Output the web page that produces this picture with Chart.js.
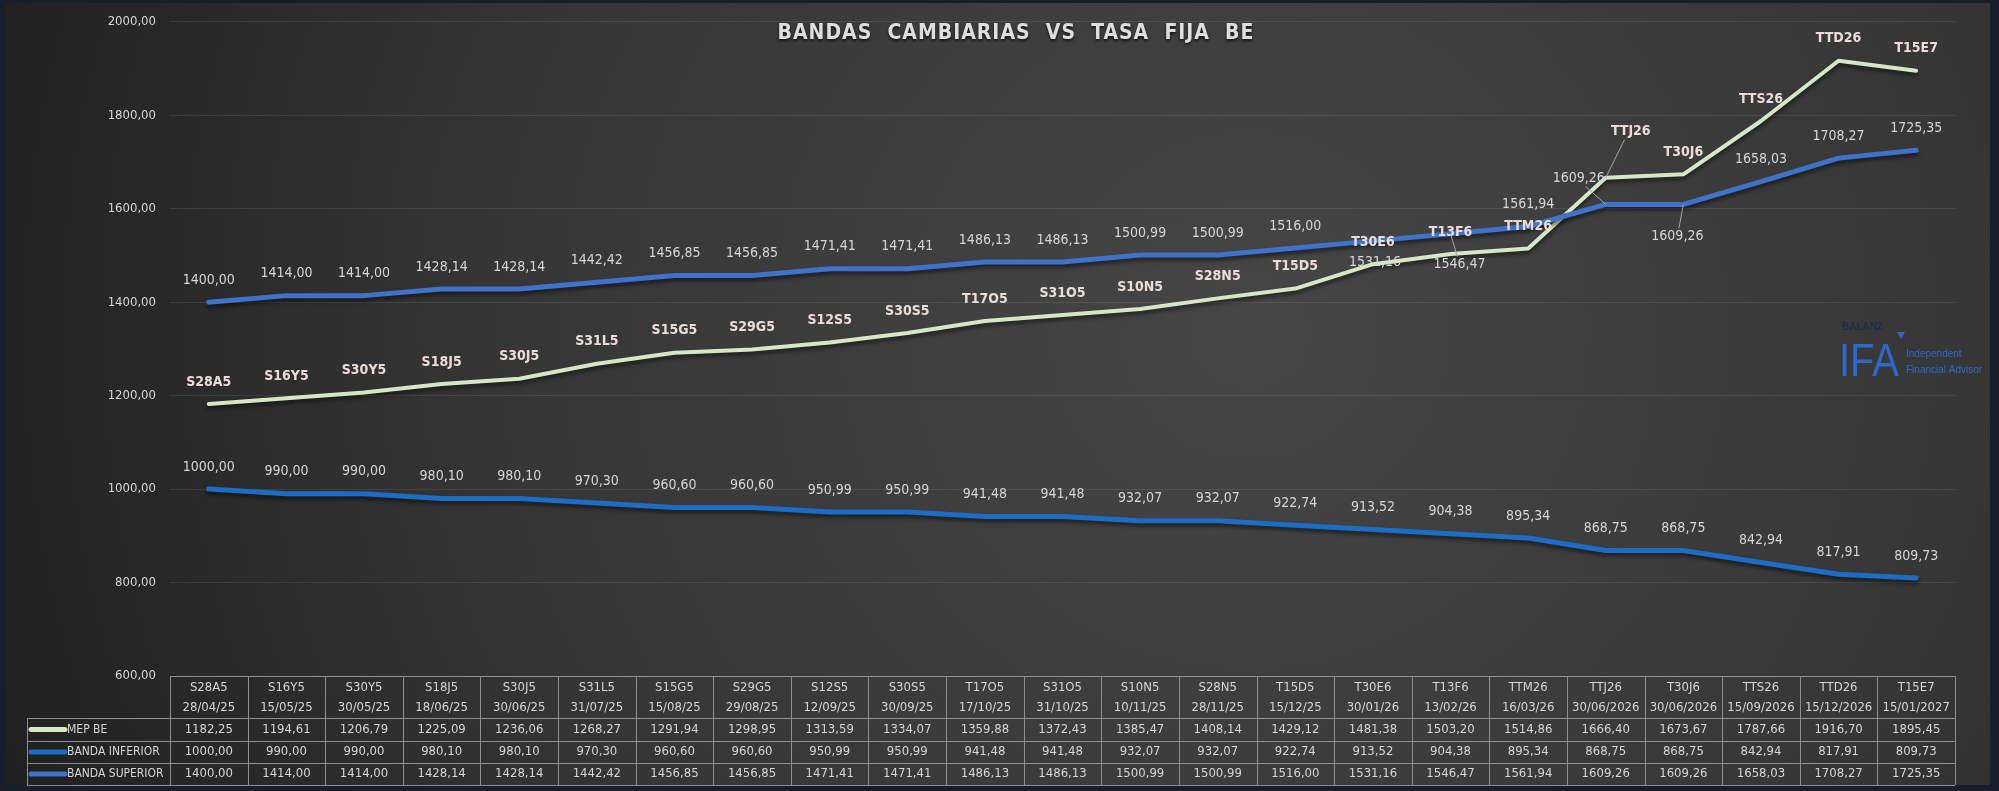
<!DOCTYPE html>
<html>
<head>
<meta charset="utf-8">
<title>Bandas cambiarias vs tasa fija BE</title>
<script src="https://cdn.jsdelivr.net/npm/chart.js@4.4.1/dist/chart.umd.min.js"></script>
<style>
  html, body { margin: 0; padding: 0; background: #17202a; overflow: hidden; }
  canvas { display: block; }
</style>
</head>
<body>
<canvas id="grafico" width="1999" height="791"></canvas>
<script>
// datos
const codigos = ["S28A5", "S16Y5", "S30Y5", "S18J5", "S30J5", "S31L5", "S15G5", "S29G5", "S12S5", "S30S5", "T17O5", "S31O5",
  "S10N5", "S28N5", "T15D5", "T30E6", "T13F6", "TTM26", "TTJ26", "T30J6", "TTS26", "TTD26", "T15E7"];
const fechas = ["28/04/25", "15/05/25", "30/05/25", "18/06/25", "30/06/25", "31/07/25", "15/08/25", "29/08/25", "12/09/25",
  "30/09/25", "17/10/25", "31/10/25", "10/11/25", "28/11/25", "15/12/25", "30/01/26", "13/02/26", "16/03/26",
  "30/06/2026", "30/06/2026", "15/09/2026", "15/12/2026", "15/01/2027"];
const mepBE = [1182.25, 1194.61, 1206.79, 1225.09, 1236.06, 1268.27, 1291.94, 1298.95, 1313.59, 1334.07, 1359.88, 1372.43,
  1385.47, 1408.14, 1429.12, 1481.38, 1503.20, 1514.86, 1666.40, 1673.67, 1787.66, 1916.70, 1895.45];
const bandaInferior = [1000.00, 990.00, 990.00, 980.10, 980.10, 970.30, 960.60, 960.60, 950.99, 950.99, 941.48, 941.48,
  932.07, 932.07, 922.74, 913.52, 904.38, 895.34, 868.75, 868.75, 842.94, 817.91, 809.73];
const bandaSuperior = [1400.00, 1414.00, 1414.00, 1428.14, 1428.14, 1442.42, 1456.85, 1456.85, 1471.41, 1471.41, 1486.13,
  1486.13, 1500.99, 1500.99, 1516.00, 1531.16, 1546.47, 1561.94, 1609.26, 1609.26, 1658.03, 1708.27, 1725.35];
const ejeY = { min: 600, max: 2000, paso: 200 };

const VERDE = "#d5e8c6";
const AZUL_INF = "#1c6dc6";
const AZUL_SUP = "#3f72c8";
const TEXTO = "#d6d6d6";
const FUENTE = "'Liberation Sans Narrow', 'DejaVu Sans Condensed', 'Liberation Sans', sans-serif";

const fmt = (v) => v.toFixed(2).replace(".", ",");

// etiquetas que no van arriba del punto (dataset, indice)
const ajustes = {
  "0-18": { dx: 25, dy: -46, guia: true },
  "2-15": { dx: 2, dy: 21 },
  "2-16": { dx: 9, dy: 31, guia: true },
  "2-18": { dx: -27, dy: -26, guia: true },
  "2-19": { dx: -6, dy: 32, guia: true }
};

const fondo = {
  id: "fondo",
  beforeDraw(chart) {
    const ctx = chart.ctx;
    ctx.save();
    ctx.fillStyle = "#17202a";
    ctx.fillRect(0, 0, chart.width, chart.height);
    const g = ctx.createRadialGradient(1250, 330, 0, 1250, 330, 1350);
    g.addColorStop(0, "#464646");
    g.addColorStop(0.55, "#363636");
    g.addColorStop(1, "#1f1f1f");
    ctx.fillStyle = g;
    ctx.fillRect(5, 3, 1985, 782);
    ctx.restore();
  },
  beforeDatasetDraw(chart) {
    const ctx = chart.ctx;
    ctx.save();
    ctx.shadowColor = "rgba(0,0,0,0.55)";
    ctx.shadowBlur = 4;
    ctx.shadowOffsetY = 3;
  },
  afterDatasetDraw(chart) {
    chart.ctx.restore();
  }
};

const etiquetas = {
  id: "etiquetas",
  afterDatasetsDraw(chart) {
    const ctx = chart.ctx;
    ctx.save();
    ctx.textAlign = "center";
    ctx.textBaseline = "middle";
    chart.data.datasets.forEach((ds, d) => {
      const meta = chart.getDatasetMeta(d);
      meta.data.forEach((p, i) => {
        const a = ajustes[d + "-" + i] || { dx: 0, dy: -22 };
        const tx = p.x + a.dx;
        const ty = p.y + a.dy;
        if (a.guia) {
          ctx.strokeStyle = "#a8a8a8";
          ctx.lineWidth = 1;
          ctx.beginPath();
          ctx.moveTo(p.x, p.y);
          const hacia = a.dy < 0 ? ty + 8 : ty - 8;
          ctx.lineTo(tx - a.dx * 0.25, hacia);
          ctx.stroke();
        }
        if (d === 0) {
          ctx.font = "bold 14px " + FUENTE;
          ctx.fillStyle = "#eadcd8";
          ctx.fillText(codigos[i], tx, ty);
        } else {
          ctx.font = "14px " + FUENTE;
          ctx.fillStyle = TEXTO;
          ctx.fillText(fmt(ds.data[i]), tx, ty);
        }
      });
    });
    ctx.restore();
  }
};

const tabla = {
  id: "tabla",
  afterDraw(chart) {
    const ctx = chart.ctx;
    const x = chart.scales.x;
    const n = codigos.length;
    const w = (x.right - x.left) / n;
    const top = chart.chartArea.bottom;
    const filas = [top, top + 42, top + 65, top + 87, top + 109];
    const izq = 27;
    ctx.save();
    ctx.strokeStyle = "#8f8f8f";
    ctx.lineWidth = 1;
    ctx.beginPath();
    ctx.moveTo(x.left, filas[0] + 0.5);
    ctx.lineTo(x.right, filas[0] + 0.5);
    for (let r = 1; r < filas.length; r++) {
      ctx.moveTo(izq, Math.round(filas[r]) + 0.5);
      ctx.lineTo(x.right, Math.round(filas[r]) + 0.5);
    }
    for (let c = 0; c <= n; c++) {
      const cx = Math.round(x.left + c * w) + 0.5;
      ctx.moveTo(cx, filas[0]);
      ctx.lineTo(cx, filas[4]);
    }
    ctx.moveTo(izq + 0.5, filas[1]);
    ctx.lineTo(izq + 0.5, filas[4]);
    ctx.stroke();

    ctx.fillStyle = TEXTO;
    ctx.font = "13px " + FUENTE;
    ctx.textAlign = "center";
    ctx.textBaseline = "middle";
    const series = [mepBE, bandaInferior, bandaSuperior];
    for (let i = 0; i < n; i++) {
      const cx = x.getPixelForValue(i);
      ctx.fillText(codigos[i], cx, filas[0] + 12);
      ctx.fillText(fechas[i], cx, filas[0] + 32);
      series.forEach((s, r) => {
        ctx.fillText(fmt(s[i]), cx, (filas[r + 1] + filas[r + 2]) / 2);
      });
    }

    const nombres = ["MEP BE", "BANDA INFERIOR", "BANDA SUPERIOR"];
    const colores = [VERDE, AZUL_INF, AZUL_SUP];
    ctx.textAlign = "left";
    ctx.lineCap = "round";
    ctx.font = "12px " + FUENTE;
    nombres.forEach((nom, r) => {
      const cy = (filas[r + 1] + filas[r + 2]) / 2;
      ctx.strokeStyle = colores[r];
      ctx.lineWidth = 5;
      ctx.beginPath();
      ctx.moveTo(31, cy);
      ctx.lineTo(65, cy);
      ctx.stroke();
      ctx.fillStyle = TEXTO;
      ctx.fillText(nom, 67, cy);
    });
    ctx.restore();
  }
};

const adornos = {
  id: "adornos",
  afterDraw(chart) {
    const ctx = chart.ctx;
    ctx.save();
    // titulo
    ctx.font = "bold 21px " + FUENTE;
    ctx.letterSpacing = "1px";
    ctx.textAlign = "center";
    ctx.textBaseline = "middle";
    ctx.shadowColor = "rgba(0,0,0,0.7)";
    ctx.shadowBlur = 3;
    ctx.shadowOffsetY = 2;
    ctx.fillStyle = "#dedede";
    ctx.fillText("BANDAS  CAMBIARIAS  VS  TASA  FIJA  BE", 1016, 34);
    ctx.restore();

    // logo
    ctx.save();
    ctx.textBaseline = "alphabetic";
    ctx.textAlign = "left";
    ctx.font = "bold 10px 'Liberation Sans', sans-serif";
    ctx.fillStyle = "#1d2c48";
    ctx.fillText("BALANZ", 1842, 330);
    ctx.fillStyle = "#2f68cc";
    ctx.save();
    ctx.translate(1839, 376);
    ctx.scale(0.85, 1);
    ctx.font = "47px 'Liberation Sans', sans-serif";
    ctx.fillText("IFA", 0, 0);
    ctx.restore();
    ctx.beginPath();
    ctx.moveTo(1897, 332);
    ctx.lineTo(1905, 332);
    ctx.lineTo(1901, 339);
    ctx.closePath();
    ctx.fill();
    ctx.font = "10px 'Liberation Sans', sans-serif";
    ctx.fillText("Independent", 1906, 357);
    ctx.fillText("Financial Advisor", 1906, 373);
    ctx.restore();
  }
};

new Chart(document.getElementById("grafico"), {
  type: "line",
  data: {
    labels: codigos,
    datasets: [
      { label: "MEP BE", data: mepBE, borderColor: VERDE, borderWidth: 4, order: 3 },
      { label: "BANDA INFERIOR", data: bandaInferior, borderColor: AZUL_INF, borderWidth: 5, order: 2 },
      { label: "BANDA SUPERIOR", data: bandaSuperior, borderColor: AZUL_SUP, borderWidth: 5, order: 1 }
    ]
  },
  options: {
    responsive: false,
    devicePixelRatio: 1,
    animation: false,
    layout: { padding: { left: 0, right: 44, top: 12, bottom: 115 } },
    elements: {
      point: { radius: 0, hoverRadius: 0 },
      line: { tension: 0, borderJoinStyle: "round", borderCapStyle: "round", fill: false }
    },
    plugins: {
      legend: { display: false },
      tooltip: { enabled: false },
      title: { display: false }
    },
    scales: {
      x: { type: "category", offset: true, display: false },
      y: {
        min: ejeY.min,
        max: ejeY.max,
        afterFit(s) { s.width = 170; },
        border: { display: false },
        grid: { color: "rgba(255,255,255,0.09)", lineWidth: 1, drawTicks: false },
        ticks: {
          stepSize: ejeY.paso,
          padding: 14,
          color: TEXTO,
          font: { family: FUENTE, size: 13 },
          callback: (v) => fmt(v)
        }
      }
    }
  },
  plugins: [fondo, etiquetas, tabla, adornos]
});
</script>
</body>
</html>
